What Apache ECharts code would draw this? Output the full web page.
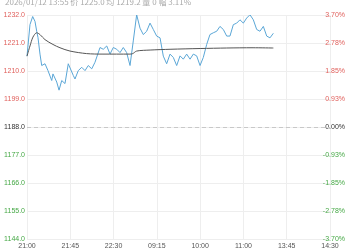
<!DOCTYPE html>
<html><head><meta charset="utf-8">
<script src="https://cdn.jsdelivr.net/npm/echarts@6/dist/echarts.min.js"></script>
<style>html,body{margin:0;padding:0;background:#fff}#c{width:350px;height:250px}</style>
</head><body><div id="c"></div>
<script>
var titleText = '2026/01/12 13:55 价 1225.0 均 1219.2 量 0 幅 3.11%';
var tickLabels = ['21:00','21:45','22:30','09:15','10:00','11:00','13:45','14:30'];
var preClose = 1188;
var priceTimes = [0,3.1,5.9,8.3,10.1,11.4,13.5,15.3,18.7,21.8,25.7,27,30.9,33.3,36.1,39.5,42.9,44.7,48.1,49.9,53.3,56.9,60.3,63.7,67.3,70.7,72.5,75.9,79.3,82.9,86.3,89.7,93.3,96.7,100.1,103.6,107.1,108.8,110.5,114,117.5,120.9,124.4,127.9,131.3,134.8,138.3,141.7,145.2,148.7,152.1,155.6,159.1,162.5,166,169.5,172.9,176.4,179.9,183.3,186.8,190.2,193.7,197.2,200.6,204.1,207.6,211,214.5,218,221.4,224.9,228.4,231.8,235.3,238.8,242.2,245.7,249.2,252.6,256.1];
var prices = [1216,1228.4,1231.6,1229.7,1225.8,1223.4,1216.8,1212.3,1213,1210.3,1206.4,1209,1205.8,1202.6,1206.4,1205.2,1213,1213.6,1208.4,1207,1210.3,1211.6,1210.3,1212.3,1211,1213.6,1214.2,1219.4,1218.7,1220,1216.8,1219.4,1218.7,1217.4,1219.4,1217.4,1212.3,1211.6,1222,1232.3,1227,1224.5,1225.8,1229,1226.5,1223.9,1223.2,1216,1213,1216.8,1215.5,1212.3,1216.1,1214.8,1216.8,1214.8,1216.8,1216.1,1212.3,1215.5,1220.6,1224.5,1225.2,1225.8,1227.7,1226.5,1223.9,1223.9,1228.4,1229,1230.3,1229,1231,1232.3,1230.3,1226.5,1225.8,1227.7,1223.9,1223.2,1225];
var avgTimes = [0,3.1,6.2,10.1,13.5,18.7,27,34.3,44.7,62,79,107,110,114,128,148.7,180,207.6,235,256.1];
var avgPrices = [1216,1220,1223.5,1225.2,1224.5,1222.5,1220.6,1219.3,1218,1217,1216.8,1216.8,1217,1218,1218.4,1218.7,1219,1219.2,1219.3,1219.2];

function pair(t, v){ return t.map(function(x,i){return [x, v[i]];}); }
var red='#e0605c', green='#45a845', dark='#333';
function colorFor(v){ v=Math.round(v*100)/100; return v>preClose?red:(v<preClose?green:dark); }

var chart = echarts.init(document.getElementById('c'));
chart.setOption({
  animation:false,
  title:{text:titleText, left:0, top:-7, textStyle:{fontSize:8, fontWeight:'normal', color:'#aaa', fontFamily:'Noto Sans CJK SC'}},
  grid:{left:27, right:20, top:15.5, bottom:7},
  xAxis:{type:'value', min:0, max:315, interval:45,
    axisLine:{show:false}, axisTick:{show:false},
    axisLabel:{fontSize:7, color:'#555', margin:4, formatter:function(v){return tickLabels[Math.round(v/45)]||'';}},
    splitLine:{show:true, lineStyle:{color:'#eeeeee', width:1}}},
  yAxis:[
    {type:'value', min:1144, max:1232, interval:11, position:'left',
     axisLine:{show:false}, axisTick:{show:false},
     axisLabel:{fontSize:7, margin:2, formatter:function(v){return v.toFixed(1);}, color:function(v){return colorFor(Number(v));}},
     splitLine:{show:true, lineStyle:{color:'#eeeeee', width:1}}},
    {type:'value', min:1144, max:1232, interval:11, position:'right',
     axisLine:{show:false}, axisTick:{show:false},
     axisLabel:{fontSize:7, margin:15, align:'right', formatter:function(v){return ((v-preClose)/preClose*100).toFixed(2)+'%';}, color:function(v){return colorFor(Number(v));}},
     splitLine:{show:false}}
  ],
  series:[
    {type:'line', data:pair(priceTimes, prices), showSymbol:false, symbol:'none', lineStyle:{color:'#5aa6d6', width:1},
     markLine:{silent:true, symbol:'none', label:{show:false}, lineStyle:{color:'#c8c8c8', type:[4,3], width:1}, data:[{yAxis:preClose}]}},
    {type:'line', data:pair(avgTimes, avgPrices), showSymbol:false, symbol:'none', smooth:0.3, lineStyle:{color:'#555', width:1}}
  ]
});
</script></body></html>
